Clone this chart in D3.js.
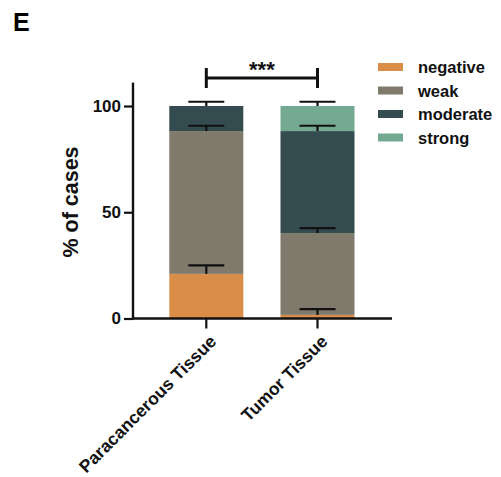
<!DOCTYPE html>
<html>
<head>
<meta charset="utf-8">
<script src="https://cdn.jsdelivr.net/npm/d3@7"></script>
<style>
  body { margin: 0; background: #fff; }
  text { font-family: Arial, "Liberation Sans", sans-serif; font-weight: bold; }
</style>
</head>
<body>
<svg id="chart"></svg>
<script>
// data
const groups = ["Paracancerous Tissue", "Tumor Tissue"];
const levels = ["negative", "weak", "moderate", "strong"];
const colors = ["#d98d48", "#7f7a6b", "#344b50", "#74a991"];
const negative = [21, 1.7];
const weak = [67.2, 38.5];
const moderate = [11.8, 48];
const strong = [0, 11.8];
const errNegative = [4, 2.7];
const errWeak = [2.5, 2.3];
const errModerate = [2, 2.5];
const errStrong = [0, 2];
const yTicks = [0, 50, 100];

const width = 501, height = 477;
const svg = d3.select("#chart").attr("width", width).attr("height", height);

const x = d3.scaleBand().domain(groups).range([113.7, 410.1])
    .paddingInner(0.3345).paddingOuter(0.5);
const y = d3.scaleLinear().domain([0, 100]).range([318.5, 106]);

const values = [negative, weak, moderate, strong];
const errs = [errNegative, errWeak, errModerate, errStrong];

// stacked bars
groups.forEach(function(g, gi) {
    let base = 0;
    levels.forEach(function(l, li) {
        let v = values[li][gi];
        if (v > 0) {
            svg.append("rect")
                .attr("x", x(g))
                .attr("width", x.bandwidth())
                .attr("y", y(base + v))
                .attr("height", y(base) - y(base + v))
                .attr("fill", colors[li]);
        }
        base += v;
    });
});

// error bars (upper only)
groups.forEach(function(g, gi) {
    let base = 0;
    let cx = x(g) + x.bandwidth() / 2;
    levels.forEach(function(l, li) {
        let v = values[li][gi];
        base += v;
        let e = errs[li][gi];
        if (v <= 0) return;
        svg.append("line")
            .attr("x1", cx).attr("x2", cx)
            .attr("y1", y(base)).attr("y2", y(base + e))
            .attr("stroke", "#111").attr("stroke-width", 2.2);
        svg.append("line")
            .attr("x1", cx - 18).attr("x2", cx + 18)
            .attr("y1", y(base + e)).attr("y2", y(base + e))
            .attr("stroke", "#111").attr("stroke-width", 2.2);
    });
});

// y axis
const yAxis = svg.append("g")
    .attr("transform", "translate(133,0)")
    .call(d3.axisLeft(y).tickValues(yTicks).tickSize(9).tickPadding(3));
yAxis.select(".domain").remove();
yAxis.selectAll(".tick line").attr("stroke", "#111").attr("stroke-width", 2.2);
yAxis.selectAll(".tick text").attr("font-size", 17).attr("fill", "#111")
    .style("font-family", "Arial, 'Liberation Sans', sans-serif").style("font-weight", "bold");
svg.append("line")
    .attr("x1", 133).attr("x2", 133)
    .attr("y1", y(111)).attr("y2", y(0) + 1)
    .attr("stroke", "#111").attr("stroke-width", 2.4);

// x axis
const xAxis = svg.append("g")
    .attr("transform", "translate(0," + y(0) + ")")
    .call(d3.axisBottom(x).tickSize(10).tickFormat(""));
xAxis.select(".domain").remove();
xAxis.selectAll(".tick line").attr("stroke", "#111").attr("stroke-width", 2.2);
svg.append("line")
    .attr("x1", 132).attr("x2", 392)
    .attr("y1", y(0)).attr("y2", y(0))
    .attr("stroke", "#111").attr("stroke-width", 2.4);

groups.forEach(function(g) {
    let cx = x(g) + x.bandwidth() / 2;
    let tx = cx + 2, ty = y(0) + 15;
    svg.append("text")
        .attr("x", tx).attr("y", ty)
        .attr("text-anchor", "end")
        .attr("dominant-baseline", "hanging")
        .attr("font-size", 17.5)
        .attr("fill", "#111")
        .attr("transform", "rotate(-45," + tx + "," + ty + ")")
        .text(g);
});

// y label
svg.append("text")
    .attr("text-anchor", "middle")
    .attr("font-size", 21.5)
    .attr("fill", "#111")
    .attr("transform", "translate(78,202) rotate(-90)")
    .text("% of cases");

// significance bracket
const x1 = x(groups[0]) + x.bandwidth() / 2, x2 = x(groups[1]) + x.bandwidth() / 2;
svg.append("line").attr("x1", x1).attr("x2", x2).attr("y1", 78).attr("y2", 78)
    .attr("stroke", "#111").attr("stroke-width", 3);
[x1, x2].forEach(function(px) {
    svg.append("line").attr("x1", px).attr("x2", px).attr("y1", 68).attr("y2", 88)
        .attr("stroke", "#111").attr("stroke-width", 3);
});
svg.append("text")
    .attr("x", (x1 + x2) / 2).attr("y", 77)
    .attr("text-anchor", "middle")
    .attr("font-size", 22)
    .attr("fill", "#111")
    .text("***");

// legend
const legend = svg.append("g").attr("transform", "translate(378,67)");
levels.forEach(function(l, i) {
    legend.append("rect")
        .attr("x", 0).attr("y", i * 23.5 - 4)
        .attr("width", 25).attr("height", 8)
        .attr("fill", colors[i]);
    legend.append("text")
        .attr("x", 40).attr("y", i * 23.5)
        .attr("dominant-baseline", "central")
        .attr("font-size", 16.5)
        .attr("fill", "#111")
        .text(l);
});

// panel letter
svg.append("text")
    .attr("x", 13).attr("y", 31)
    .attr("font-size", 25)
    .attr("fill", "#000")
    .text("E");
</script>
</body>
</html>
